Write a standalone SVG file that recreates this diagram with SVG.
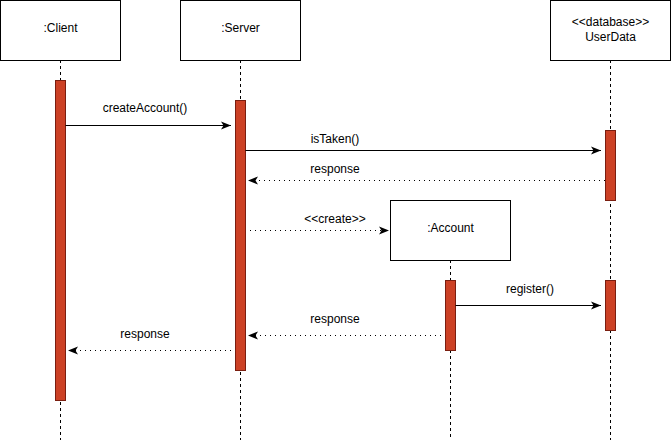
<svg xmlns="http://www.w3.org/2000/svg" width="672" height="445" viewBox="0 0 672 445">
<style>
.box{fill:#fff;stroke:#000;stroke-width:1}
.life{stroke:#000;stroke-width:1;stroke-dasharray:3 3;fill:none}
.act{fill:#CC4125;stroke:#7A1E10;stroke-width:1}
.t{font-family:"Liberation Sans",Arial,sans-serif;font-size:12px;fill:#000;text-anchor:middle}
.msg{stroke:#000;stroke-width:1;fill:none}
.ret{stroke:#000;stroke-width:1;fill:none;stroke-dasharray:1 4}
</style>
<defs>
<marker id="arr" viewBox="0 0 10 10" refX="10" refY="5" markerWidth="10" markerHeight="10" markerUnits="userSpaceOnUse" orient="auto">
<path d="M0,1 L10,5 L0,9 L2.5,5 Z" fill="#000"/>
</marker>
</defs>
<g id="lifelines">
<line class="life" x1="60.5" y1="60" x2="60.5" y2="440"/>
<line class="life" x1="240.5" y1="60" x2="240.5" y2="440"/>
<line class="life" x1="450.5" y1="260" x2="450.5" y2="440"/>
<line class="life" x1="610.5" y1="60" x2="610.5" y2="440"/>
</g>
<g id="client">
<rect class="box" x="0.5" y="0.5" width="120" height="60"/>
<text class="t" x="60.5" y="32">:Client</text>
<rect class="act" x="55.5" y="80.5" width="10" height="320"/>
</g>
<g id="server">
<rect class="box" x="180.5" y="0.5" width="120" height="60"/>
<text class="t" x="240.5" y="32">:Server</text>
<rect class="act" x="235.5" y="100.5" width="10" height="270"/>
</g>
<g id="userdata">
<rect class="box" x="550.5" y="0.5" width="120" height="60"/>
<text class="t" x="610.5" y="26">&lt;&lt;database&gt;&gt;</text>
<text class="t" x="610.5" y="41">UserData</text>
<rect class="act" x="605.5" y="130.5" width="10" height="70"/>
<rect class="act" x="605.5" y="280.5" width="10" height="50"/>
</g>
<g id="account">
<rect class="box" x="390.5" y="200.5" width="120" height="60"/>
<text class="t" x="450.5" y="232">:Account</text>
<rect class="act" x="445.5" y="280.5" width="10" height="70"/>
</g>
<g id="connectors">
<line class="msg" x1="65.5" y1="125.5" x2="231" y2="125.5" marker-end="url(#arr)"/>
<text class="t" x="145" y="112">createAccount()</text>
<line class="msg" x1="245.5" y1="150.5" x2="601" y2="150.5" marker-end="url(#arr)"/>
<text class="t" x="335" y="143">isTaken()</text>
<line class="ret" x1="605" y1="180.5" x2="248" y2="180.5" marker-end="url(#arr)"/>
<text class="t" x="335" y="173">response</text>
<line class="ret" x1="250" y1="230.5" x2="389" y2="230.5" marker-end="url(#arr)"/>
<text class="t" x="335" y="223">&lt;&lt;create&gt;&gt;</text>
<line class="msg" x1="455.5" y1="305.5" x2="601" y2="305.5" marker-end="url(#arr)"/>
<text class="t" x="530" y="293">register()</text>
<line class="ret" x1="441" y1="335.5" x2="248" y2="335.5" marker-end="url(#arr)"/>
<text class="t" x="335" y="323">response</text>
<line class="ret" x1="231" y1="350.5" x2="68" y2="350.5" marker-end="url(#arr)"/>
<text class="t" x="145" y="338">response</text>
</g>
</svg>
